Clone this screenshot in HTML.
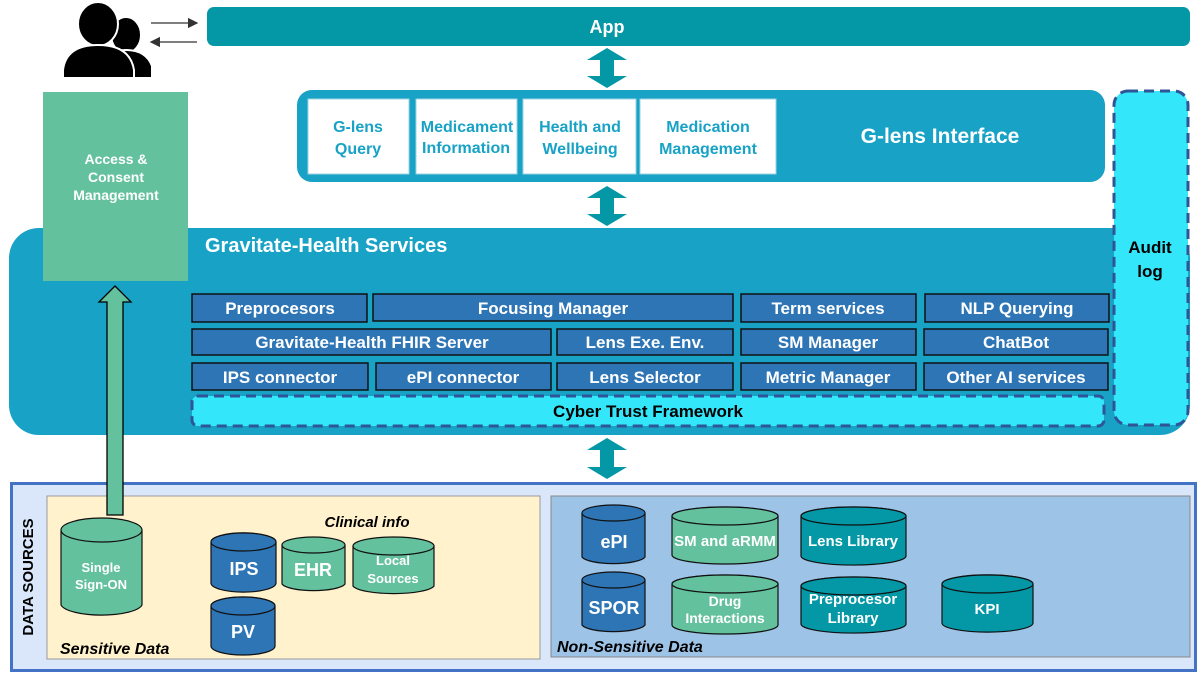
<!DOCTYPE html>
<html><head><meta charset="utf-8"><style>html,body{margin:0;padding:0;background:#fff}svg{display:block}text{font-family:"Liberation Sans",Arial,sans-serif;font-weight:bold}</style></head><body>
<svg width="1200" height="675" viewBox="0 0 1200 675" xmlns="http://www.w3.org/2000/svg">
<defs>
<marker id="ah" markerWidth="8" markerHeight="8" refX="7" refY="4" orient="auto"><path d="M0,0 L8,4 L0,8 z" fill="#333"/></marker>
</defs>
<!-- user icon -->
<g fill="#000" stroke="#fff" stroke-width="2">
<ellipse cx="126" cy="35" rx="15" ry="18"/>
<path d="M105,78 L105,66 Q108,50 126,50 Q146,50 152,66 L152,78 Z"/>
<ellipse cx="98" cy="24" rx="20" ry="22"/>
<path d="M63,78 L63,70 Q66,45 98,45 Q130,45 134,70 L134,78 Z"/>
</g>
<line x1="151" y1="23" x2="197" y2="23" stroke="#333" stroke-width="1.3" marker-end="url(#ah)"/>
<line x1="197" y1="42" x2="151" y2="42" stroke="#333" stroke-width="1.3" marker-end="url(#ah)"/>
<!-- App -->
<rect x="207" y="7" width="983" height="39" rx="7" fill="#0497A6"/>
<text x="607" y="33" font-size="18" fill="#fff" text-anchor="middle">App</text>
<!-- double arrows -->
<g fill="#0497A6">
<path d="M607,48 L627,60 L614,60 L614,76 L627,76 L607,88 L587,76 L600,76 L600,60 L587,60 Z"/>
<path d="M607,186 L627,198 L614,198 L614,214 L627,214 L607,226 L587,214 L600,214 L600,198 L587,198 Z"/>
<path d="M607,438 L627,450 L614,450 L614,467 L627,467 L607,479 L587,467 L600,467 L600,450 L587,450 Z"/>
</g>
<!-- G-lens interface -->
<rect x="297" y="90" width="808" height="92" rx="15" fill="#17A2C6"/>
<g fill="#fff" stroke="#9fd3e3" stroke-width="1">
<rect x="308" y="99" width="101" height="75"/>
<rect x="416" y="99" width="101" height="75"/>
<rect x="523" y="99" width="113" height="75"/>
<rect x="640" y="99" width="136" height="75"/>
</g>
<g fill="#17A2C6" font-size="16" text-anchor="middle">
<text x="358" y="132">G-lens</text><text x="358" y="154">Query</text>
<text x="467" y="132">Medicament</text><text x="466" y="153">Information</text>
<text x="580" y="132">Health and</text><text x="580" y="154">Wellbeing</text>
<text x="708" y="132">Medication</text><text x="708" y="154">Management</text>
</g>
<text x="940" y="143" font-size="21" fill="#fff" text-anchor="middle">G-lens Interface</text>
<!-- services block -->
<rect x="9" y="228" width="1181" height="207" rx="30" fill="#17A2C6"/>
<rect x="43" y="92" width="145" height="189" fill="#64C19E"/>
<g fill="#fff" font-size="14" text-anchor="middle">
<text x="116" y="164">Access &amp;</text><text x="116" y="182">Consent</text><text x="116" y="200">Management</text>
</g>
<text x="205" y="252" font-size="20" fill="#fff">Gravitate-Health Services</text>
<!-- audit log -->
<rect x="1114" y="91" width="74" height="334" rx="14" fill="#33E6FA" stroke="#2F5597" stroke-width="3" stroke-dasharray="10,6"/>
<text x="1150" y="253" font-size="17" fill="#000" text-anchor="middle">Audit</text>
<text x="1150" y="277" font-size="17" fill="#000" text-anchor="middle">log</text>
<!-- service boxes -->
<g fill="#2E75B6" stroke="#111" stroke-width="1.5">
<rect x="192" y="294" width="175" height="28"/><rect x="373" y="294" width="360" height="27"/><rect x="741" y="294" width="175" height="28"/><rect x="925" y="294" width="184" height="28"/>
<rect x="192" y="329" width="359" height="26"/><rect x="557" y="329" width="176" height="26"/><rect x="741" y="329" width="175" height="26"/><rect x="924" y="329" width="184" height="26"/>
<rect x="192" y="363" width="176" height="27"/><rect x="376" y="363" width="175" height="27"/><rect x="557" y="363" width="176" height="27"/><rect x="741" y="363" width="175" height="27"/><rect x="924" y="363" width="184" height="27"/>
</g>
<g fill="#fff" font-size="17" text-anchor="middle">
<text x="280" y="314">Preprocesors</text><text x="553" y="314">Focusing Manager</text><text x="828" y="314">Term services</text><text x="1017" y="314">NLP Querying</text>
<text x="372" y="348">Gravitate-Health FHIR Server</text><text x="645" y="348">Lens Exe. Env.</text><text x="828" y="348">SM Manager</text><text x="1016" y="348">ChatBot</text>
<text x="280" y="383">IPS connector</text><text x="463" y="383">ePI connector</text><text x="645" y="383">Lens Selector</text><text x="828" y="383">Metric Manager</text><text x="1016" y="383">Other AI services</text>
</g>
<rect x="192" y="396" width="912" height="30" rx="6" fill="#33E6FA" stroke="#2F5597" stroke-width="3" stroke-dasharray="10,6"/>
<text x="648" y="417" font-size="17" fill="#000" text-anchor="middle">Cyber Trust Framework</text>
<!-- data sources -->
<rect x="11.5" y="483.5" width="1184" height="187" fill="#DAE7FA" stroke="#4472C4" stroke-width="3"/>
<text transform="translate(33,577) rotate(-90)" font-size="15" fill="#000" text-anchor="middle">DATA SOURCES</text>
<rect x="47" y="496" width="493" height="163" fill="#FFF2CC" stroke="#999" stroke-width="1"/>
<rect x="551" y="496" width="639" height="161" fill="#9DC3E6" stroke="#888" stroke-width="1"/>
<text x="60" y="654" font-size="16" font-style="italic" fill="#000">Sensitive Data</text>
<text x="557" y="652" font-size="16" font-style="italic" fill="#000">Non-Sensitive Data</text>
<text x="367" y="527" font-size="15" font-style="italic" fill="#000" text-anchor="middle">Clinical info</text>
<!-- green up arrow -->
<path d="M115,286 L131,302 L123,302 L123,515 L107,515 L107,302 L99,302 Z" fill="#64C19E" stroke="#000" stroke-width="1.3"/>
<!-- cylinders -->
<g stroke="#111" stroke-width="1.2">
<g fill="#64C19E"><path d="M61,530 A41,12 0 0 1 142,530 L142,605 A41,12 0 0 1 61,605 Z"/><ellipse cx="101.5" cy="530" rx="40.5" ry="12"/></g>
<g fill="#2E75B6"><path d="M211,542 A32,9 0 0 1 276,542 L276,583 A32,9 0 0 1 211,583 Z"/><ellipse cx="243.5" cy="542" rx="32.5" ry="9"/></g>
<g fill="#64C19E"><path d="M282,545 A32,8 0 0 1 345,545 L345,584 A32,8 0 0 1 282,584 Z"/><ellipse cx="313.5" cy="545" rx="31.5" ry="8"/></g>
<g fill="#64C19E"><path d="M353,546 A41,9 0 0 1 434,546 L434,586 A41,9 0 0 1 353,586 Z"/><ellipse cx="393.5" cy="546" rx="40.5" ry="9"/></g>
<g fill="#2E75B6"><path d="M211,606 A32,9 0 0 1 275,606 L275,646 A32,9 0 0 1 211,646 Z"/><ellipse cx="243" cy="606" rx="32" ry="9"/></g>
<g fill="#2E75B6"><path d="M582,513 A32,8 0 0 1 645,513 L645,557 A32,8 0 0 1 582,557 Z"/><ellipse cx="613.5" cy="513" rx="31.5" ry="8"/></g>
<g fill="#2E75B6"><path d="M582,580 A32,8 0 0 1 645,580 L645,625 A32,8 0 0 1 582,625 Z"/><ellipse cx="613.5" cy="580" rx="31.5" ry="8"/></g>
<g fill="#64C19E"><path d="M672,516 A53,9 0 0 1 778,516 L778,555 A53,9 0 0 1 672,555 Z"/><ellipse cx="725" cy="516" rx="53" ry="9"/></g>
<g fill="#64C19E"><path d="M672,584 A53,9 0 0 1 778,584 L778,625 A53,9 0 0 1 672,625 Z"/><ellipse cx="725" cy="584" rx="53" ry="9"/></g>
<g fill="#0497A6"><path d="M801,516 A52,9 0 0 1 906,516 L906,556 A52,9 0 0 1 801,556 Z"/><ellipse cx="853.5" cy="516" rx="52.5" ry="9"/></g>
<g fill="#0497A6"><path d="M801,586 A52,9 0 0 1 906,586 L906,624 A52,9 0 0 1 801,624 Z"/><ellipse cx="853.5" cy="586" rx="52.5" ry="9"/></g>
<g fill="#0497A6"><path d="M942,584 A45,9 0 0 1 1033,584 L1033,623 A45,9 0 0 1 942,623 Z"/><ellipse cx="987.5" cy="584" rx="45.5" ry="9"/></g>
</g>
<g fill="#fff" text-anchor="middle">
<text x="101" y="572" font-size="13">Single</text><text x="101" y="589" font-size="13">Sign-ON</text>
<text x="244" y="575" font-size="18">IPS</text>
<text x="313" y="576" font-size="18">EHR</text>
<text x="393" y="565" font-size="13">Local</text><text x="393" y="583" font-size="13">Sources</text>
<text x="243" y="638" font-size="18">PV</text>
<text x="614" y="548" font-size="18">ePI</text>
<text x="614" y="614" font-size="18">SPOR</text>
<text x="725" y="546" font-size="15">SM and aRMM</text>
<text x="725" y="606" font-size="14">Drug</text><text x="725" y="623" font-size="14">Interactions</text>
<text x="853" y="546" font-size="15">Lens Library</text>
<text x="853" y="604" font-size="15">Preprocesor</text><text x="853" y="623" font-size="15">Library</text>
<text x="987" y="614" font-size="15">KPI</text>
</g>
</svg>
</body></html>
